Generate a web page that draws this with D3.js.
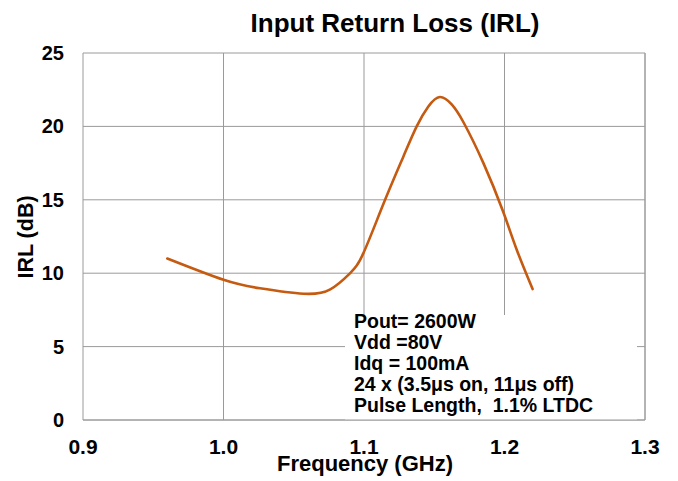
<!DOCTYPE html>
<html>
<head>
<meta charset="utf-8">
<script src="https://cdn.jsdelivr.net/npm/d3@7"></script>
<style>
  body { margin: 0; background: #fff; }
  text { font-family: "Liberation Sans", Arial, sans-serif; font-weight: bold; fill: #000; }
</style>
</head>
<body>
<svg id="chart"></svg>
<script>
// values
var freq = [0.96, 1.0, 1.026, 1.057, 1.076, 1.09, 1.0995, 1.114, 1.128, 1.1375, 1.1458, 1.154, 1.1624, 1.1707, 1.185, 1.199, 1.2087, 1.22];
var irl  = [11.0, 9.55, 8.97, 8.6, 8.9, 9.99, 11.35, 14.76, 17.94, 20.0, 21.35, 22.0, 21.5, 20.3, 17.5, 14.2, 11.6, 8.92];
var xTicks = [0.9, 1.0, 1.1, 1.2, 1.3];
var yTicks = [0, 5, 10, 15, 20, 25];
var notes = ["Pout= 2600W", "Vdd =80V", "Idq = 100mA", "24 x (3.5\u03bcs on, 11\u03bcs off)", "Pulse Length,  1.1% LTDC"];

var width = 678, height = 481;
var plotLeft = 83, plotRight = 645, plotTop = 53, plotBottom = 420;

var svg = d3.select("#chart").attr("width", width).attr("height", height);

var x = d3.scaleLinear().domain([0.9, 1.3]).range([plotLeft, plotRight]);
var y = d3.scaleLinear().domain([0, 25]).range([plotBottom, plotTop]);

// grid
svg.selectAll(".vgrid").data(xTicks).enter().append("line")
  .attr("x1", function(d){ return x(d); }).attr("x2", function(d){ return x(d); })
  .attr("y1", plotTop).attr("y2", plotBottom)
  .attr("stroke", "#9a9a9a").attr("stroke-width", 1);
svg.selectAll(".hgrid").data(yTicks).enter().append("line")
  .attr("x1", plotLeft).attr("x2", plotRight)
  .attr("y1", function(d){ return y(d); }).attr("y2", function(d){ return y(d); })
  .attr("stroke", "#9a9a9a").attr("stroke-width", 1);

// curve
var line = d3.line()
  .x(function(d, i){ return x(freq[i]); })
  .y(function(d){ return y(d); })
  .curve(d3.curveNatural);
svg.append("path").datum(irl)
  .attr("d", line)
  .attr("fill", "none")
  .attr("stroke", "#c55a11")
  .attr("stroke-width", 2.6)
  .attr("stroke-linecap", "round");

// note box
svg.append("rect")
  .attr("x", 345).attr("y", 315).attr("width", 292).attr("height", y(0) - 315)
  .attr("fill", "#fff");
svg.append("line").attr("x1", plotRight).attr("x2", plotRight).attr("y1", plotTop).attr("y2", plotBottom)
  .attr("stroke", "#9a9a9a");
svg.append("line").attr("x1", plotLeft).attr("x2", plotRight).attr("y1", plotBottom).attr("y2", plotBottom)
  .attr("stroke", "#9a9a9a");
svg.selectAll(".note").data(notes).enter().append("text")
  .attr("x", 354)
  .attr("y", function(d, i){ return 328 + i * 21; })
  .attr("font-size", 19.5)
  .style("white-space", "pre")
  .text(function(d){ return d; });

// tick labels
svg.selectAll(".ylab").data(yTicks).enter().append("text")
  .attr("x", 64).attr("y", function(d){ return y(d) + 7; })
  .attr("text-anchor", "end").attr("font-size", 20)
  .text(function(d){ return d; });
svg.selectAll(".xlab").data(xTicks).enter().append("text")
  .attr("x", function(d){ return x(d); }).attr("y", 454)
  .attr("text-anchor", "middle").attr("font-size", 21)
  .text(function(d){ return d.toFixed(1); });

// titles
svg.append("text").attr("x", 395).attr("y", 32).attr("text-anchor", "middle")
  .attr("font-size", 26).text("Input Return Loss (IRL)");
svg.append("text").attr("x", 365).attr("y", 471).attr("text-anchor", "middle")
  .attr("font-size", 22).text("Frequency (GHz)");
svg.append("text").attr("transform", "translate(33,237) rotate(-90)")
  .attr("text-anchor", "middle").attr("font-size", 21.5).text("IRL (dB)");
</script>
</body>
</html>
